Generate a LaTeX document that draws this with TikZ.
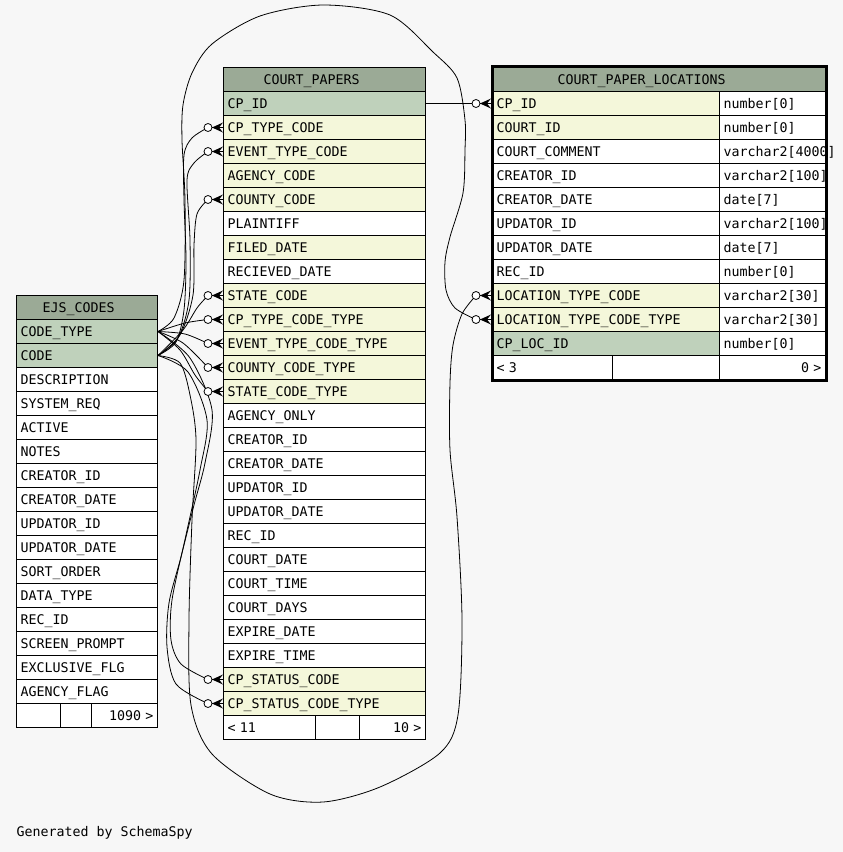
\documentclass[tikz,border=0pt]{standalone}
\usepackage{fontspec}
\newfontfamily\schemafont{DejaVu Sans Mono}
\usetikzlibrary{positioning}
\definecolor{bgGray}{RGB}{247,247,247}
\definecolor{headGreen}{RGB}{155,170,150}
\definecolor{keyGreen}{RGB}{191,209,187}
\definecolor{fkYellow}{RGB}{244,247,218}
\newcommand{\cellfont}{\schemafont\fontsize{13.3}{16}\selectfont}
\tikzset{
  cell/.style={draw, fill=white, anchor=north west, minimum height=24pt, inner xsep=4pt, inner ysep=0pt, align=left, text height=12.7pt, text depth=3pt, font=\cellfont},
  headcell/.style={cell, fill=headGreen},
  pkcell/.style={cell, fill=keyGreen},
  fkcell/.style={cell, fill=fkYellow},
  ejscol/.style={text width=133pt},
  cpcol/.style={text width=194pt},
  namecol/.style={text width=219pt},
  typecol/.style={text width=98pt},
  optdot/.style={circle, draw, fill=white, line width=0.8pt, minimum size=8pt, inner sep=0pt},
  crow/.pic={\fill (-11,0) -- (0,-5) -- (-4,0) -- (0,5) -- cycle; \draw[line width=0.8pt] (-11,0) -- (0,0);},
  link/.style={line width=0.8pt},
  credit/.style={anchor=west, inner sep=0pt, text height=12.7pt, text depth=3pt, font=\cellfont}
}
\begin{document}
\begin{tikzpicture}[x=1pt, y=-1pt, line width=1pt]
  \fill[bgGray] (0,0) rectangle (843,852);
  \useasboundingbox (0,0) rectangle (843,852);

  % EJS_CODES
  \node[headcell, ejscol] (ejsHead) at (16,295) {\hspace*{22pt}EJS\_CODES};
  \node[pkcell, ejscol] (ejsCodeType) at (16,319) {CODE\_TYPE};
  \node[pkcell, ejscol] (ejsCode) at (16,343) {CODE};
  \node[cell, ejscol] (ejsDesc) at (16,367) {DESCRIPTION};
  \node[cell, ejscol] (ejsSysReq) at (16,391) {SYSTEM\_REQ};
  \node[cell, ejscol] (ejsActive) at (16,415) {ACTIVE};
  \node[cell, ejscol] (ejsNotes) at (16,439) {NOTES};
  \node[cell, ejscol] (ejsCreatorId) at (16,463) {CREATOR\_ID};
  \node[cell, ejscol] (ejsCreatorDate) at (16,487) {CREATOR\_DATE};
  \node[cell, ejscol] (ejsUpdatorId) at (16,511) {UPDATOR\_ID};
  \node[cell, ejscol] (ejsUpdatorDate) at (16,535) {UPDATOR\_DATE};
  \node[cell, ejscol] (ejsSortOrder) at (16,559) {SORT\_ORDER};
  \node[cell, ejscol] (ejsDataType) at (16,583) {DATA\_TYPE};
  \node[cell, ejscol] (ejsRecId) at (16,607) {REC\_ID};
  \node[cell, ejscol] (ejsPrompt) at (16,631) {SCREEN\_PROMPT};
  \node[cell, ejscol] (ejsExclusive) at (16,655) {EXCLUSIVE\_FLG};
  \node[cell, ejscol] (ejsAgencyFlag) at (16,679) {AGENCY\_FLAG};
  \node[cell, text width=36pt] (ejsFootA) at (16,703) {};
  \node[cell, text width=23pt] (ejsFootB) at (60,703) {};
  \node[cell, text width=58pt, align=right] (ejsFootC) at (91,703) {1090 >};

  % COURT_PAPERS
  \node[headcell, cpcol] (cpHead) at (223,67) {\hspace*{36pt}COURT\_PAPERS};
  \node[pkcell, cpcol] (cpId) at (223,91) {CP\_ID};
  \node[fkcell, cpcol] (cpTypeCode) at (223,115) {CP\_TYPE\_CODE};
  \node[fkcell, cpcol] (cpEventCode) at (223,139) {EVENT\_TYPE\_CODE};
  \node[fkcell, cpcol] (cpAgencyCode) at (223,163) {AGENCY\_CODE};
  \node[fkcell, cpcol] (cpCountyCode) at (223,187) {COUNTY\_CODE};
  \node[cell, cpcol] (cpPlaintiff) at (223,211) {PLAINTIFF};
  \node[fkcell, cpcol] (cpFiled) at (223,235) {FILED\_DATE};
  \node[cell, cpcol] (cpRecieved) at (223,259) {RECIEVED\_DATE};
  \node[fkcell, cpcol] (cpStateCode) at (223,283) {STATE\_CODE};
  \node[fkcell, cpcol] (cpTypeCodeType) at (223,307) {CP\_TYPE\_CODE\_TYPE};
  \node[fkcell, cpcol] (cpEventCodeType) at (223,331) {EVENT\_TYPE\_CODE\_TYPE};
  \node[fkcell, cpcol] (cpCountyCodeType) at (223,355) {COUNTY\_CODE\_TYPE};
  \node[fkcell, cpcol] (cpStateCodeType) at (223,379) {STATE\_CODE\_TYPE};
  \node[cell, cpcol] (cpAgencyOnly) at (223,403) {AGENCY\_ONLY};
  \node[cell, cpcol] (cpCreatorId) at (223,427) {CREATOR\_ID};
  \node[cell, cpcol] (cpCreatorDate) at (223,451) {CREATOR\_DATE};
  \node[cell, cpcol] (cpUpdatorId) at (223,475) {UPDATOR\_ID};
  \node[cell, cpcol] (cpUpdatorDate) at (223,499) {UPDATOR\_DATE};
  \node[cell, cpcol] (cpRecId) at (223,523) {REC\_ID};
  \node[cell, cpcol] (cpCourtDate) at (223,547) {COURT\_DATE};
  \node[cell, cpcol] (cpCourtTime) at (223,571) {COURT\_TIME};
  \node[cell, cpcol] (cpCourtDays) at (223,595) {COURT\_DAYS};
  \node[cell, cpcol] (cpExpireDate) at (223,619) {EXPIRE\_DATE};
  \node[cell, cpcol] (cpExpireTime) at (223,643) {EXPIRE\_TIME};
  \node[fkcell, cpcol] (cpStatusCode) at (223,667) {CP\_STATUS\_CODE};
  \node[fkcell, cpcol] (cpStatusCodeType) at (223,691) {CP\_STATUS\_CODE\_TYPE};
  \node[cell, text width=84pt] (cpFootA) at (223,715) {< 11};
  \node[cell, text width=36pt] (cpFootB) at (315,715) {};
  \node[cell, text width=58pt, align=right] (cpFootC) at (359,715) {10 >};

  % COURT_PAPER_LOCATIONS
  \node[headcell, text width=325pt] (cplHead) at (492,67) {\hspace*{61pt}COURT\_PAPER\_LOCATIONS};
  \node[fkcell, namecol] (cplCpId) at (492,91) {CP\_ID};
  \node[cell, typecol] (cplCpIdT) at (719,91) {number[0]};
  \node[fkcell, namecol] (cplCourtId) at (492,115) {COURT\_ID};
  \node[cell, typecol] (cplCourtIdT) at (719,115) {number[0]};
  \node[cell, namecol] (cplComment) at (492,139) {COURT\_COMMENT};
  \node[cell, typecol] (cplCommentT) at (719,139) {varchar2[4000]};
  \node[cell, namecol] (cplCreatorId) at (492,163) {CREATOR\_ID};
  \node[cell, typecol] (cplCreatorIdT) at (719,163) {varchar2[100]};
  \node[cell, namecol] (cplCreatorDate) at (492,187) {CREATOR\_DATE};
  \node[cell, typecol] (cplCreatorDateT) at (719,187) {date[7]};
  \node[cell, namecol] (cplUpdatorId) at (492,211) {UPDATOR\_ID};
  \node[cell, typecol] (cplUpdatorIdT) at (719,211) {varchar2[100]};
  \node[cell, namecol] (cplUpdatorDate) at (492,235) {UPDATOR\_DATE};
  \node[cell, typecol] (cplUpdatorDateT) at (719,235) {date[7]};
  \node[cell, namecol] (cplRecId) at (492,259) {REC\_ID};
  \node[cell, typecol] (cplRecIdT) at (719,259) {number[0]};
  \node[fkcell, namecol] (cplLocType) at (492,283) {LOCATION\_TYPE\_CODE};
  \node[cell, typecol] (cplLocTypeT) at (719,283) {varchar2[30]};
  \node[fkcell, namecol] (cplLocTypeType) at (492,307) {LOCATION\_TYPE\_CODE\_TYPE};
  \node[cell, typecol] (cplLocTypeTypeT) at (719,307) {varchar2[30]};
  \node[pkcell, namecol] (cplLocId) at (492,331) {CP\_LOC\_ID};
  \node[cell, typecol] (cplLocIdT) at (719,331) {number[0]};
  \node[cell, text width=112pt] (cplFootA) at (492,355) {< 3};
  \node[cell, text width=99pt] (cplFootB) at (612,355) {};
  \node[cell, typecol, align=right] (cplFootC) at (719,355) {0 >};
  \draw[line width=3pt] ([yshift=1pt]cplHead.north west) rectangle (cplFootC.south east);

  % optional ends of the links
  \coordinate (dCpType) at ([xshift=-15pt]cpTypeCode.west);
  \coordinate (dEventType) at ([xshift=-15pt]cpEventCode.west);
  \coordinate (dCounty) at ([xshift=-15pt]cpCountyCode.west);
  \coordinate (dState) at ([xshift=-15pt]cpStateCode.west);
  \coordinate (dCpTypeType) at ([xshift=-15pt]cpTypeCodeType.west);
  \coordinate (dEventTypeType) at ([xshift=-15pt]cpEventCodeType.west);
  \coordinate (dCountyType) at ([xshift=-15pt]cpCountyCodeType.west);
  \coordinate (dStateType) at ([xshift=-15pt]cpStateCodeType.west);
  \coordinate (dStatus) at ([xshift=-15pt]cpStatusCode.west);
  \coordinate (dStatusType) at ([xshift=-15pt]cpStatusCodeType.west);
  \coordinate (dCplId) at ([xshift=-16pt]cplCpId.west);
  \coordinate (dLocType) at ([xshift=-16pt]cplLocType.west);
  \coordinate (dLocTypeType) at ([xshift=-16pt]cplLocTypeType.west);

  % links from EJS_CODES.CODE
  \draw[link] plot[smooth] coordinates {(ejsCode.east) (176,342) (184,310) (186,260) (184,200) (184,155) (192,138) (dCpType)};
  \draw[link] plot[smooth] coordinates {(ejsCode.east) (178,338) (189,300) (190,240) (187,180) (194,163) (dEventType)};
  \draw[link] plot[smooth] coordinates {(ejsCode.east) (180,335) (193,295) (194,245) (197,214) (dCounty)};
  \draw[link] plot[smooth] coordinates {(ejsCode.east) (183,330) (197,308) (dState)};
  \draw[link] plot[smooth] coordinates {(ejsCode.east) (188,372) (207,420) (200,470) (186,535) (172,600) (171,640) (181,664) (dStatus)};
  \draw[link] plot[smooth] coordinates {(ejsCode.east) (180,363) (190,395) (196,440) (192,520) (189,620) (191,705) (212,754) (270,794) (323,802) (380,787) (440,753) (458,715) (462,620) (457,517) (450,450) (450,383) (453,345) (462,314) (dLocType)};
  % links from EJS_CODES.CODE_TYPE
  \draw[link] plot[smooth] coordinates {(ejsCodeType.east) (185,323) (dCpTypeType)};
  \draw[link] plot[smooth] coordinates {(ejsCodeType.east) (185,334) (dEventTypeType)};
  \draw[link] plot[smooth] coordinates {(ejsCodeType.east) (183,343) (dCountyType)};
  \draw[link] plot[smooth] coordinates {(ejsCodeType.east) (180,350) (195,375) (dStateType)};
  \draw[link] plot[smooth] coordinates {(ejsCodeType.east) (190,358) (212,410) (205,463) (194,505) (181,557) (169,603) (167,647) (176,684) (dStatusType)};
  \draw[link] plot[smooth] coordinates {(ejsCodeType.east) (174,318) (184,280) (185,200) (182,140) (183,105) (192,73) (212,44) (260,16) (323,5) (390,15) (433,52) (457,78) (465,120) (465,150) (463,193) (450,237) (445,262) (446,290) (455,308) (dLocTypeType)};
  % link from COURT_PAPERS.CP_ID
  \draw[link] (cpId.east) -- (dCplId);

  % crow's feet
  \node[optdot] (oCpType) at (dCpType) {};
  \node[optdot] (oEventType) at (dEventType) {};
  \node[optdot] (oCounty) at (dCounty) {};
  \node[optdot] (oState) at (dState) {};
  \node[optdot] (oCpTypeType) at (dCpTypeType) {};
  \node[optdot] (oEventTypeType) at (dEventTypeType) {};
  \node[optdot] (oCountyType) at (dCountyType) {};
  \node[optdot] (oStateType) at (dStateType) {};
  \node[optdot] (oStatus) at (dStatus) {};
  \node[optdot] (oStatusType) at (dStatusType) {};
  \node[optdot] (oCplId) at (dCplId) {};
  \node[optdot] (oLocType) at (dLocType) {};
  \node[optdot] (oLocTypeType) at (dLocTypeType) {};
  \pic at (cpTypeCode.west) {crow};
  \pic at (cpEventCode.west) {crow};
  \pic at (cpCountyCode.west) {crow};
  \pic at (cpStateCode.west) {crow};
  \pic at (cpTypeCodeType.west) {crow};
  \pic at (cpEventCodeType.west) {crow};
  \pic at (cpCountyCodeType.west) {crow};
  \pic at (cpStateCodeType.west) {crow};
  \pic at (cpStatusCode.west) {crow};
  \pic at (cpStatusCodeType.west) {crow};
  \pic at ([xshift=-1pt]cplCpId.west) {crow};
  \pic at ([xshift=-1pt]cplLocType.west) {crow};
  \pic at ([xshift=-1pt]cplLocTypeType.west) {crow};

  \node[credit] (schemaSpy) at (16,832) {Generated by SchemaSpy};
\end{tikzpicture}
\end{document}
